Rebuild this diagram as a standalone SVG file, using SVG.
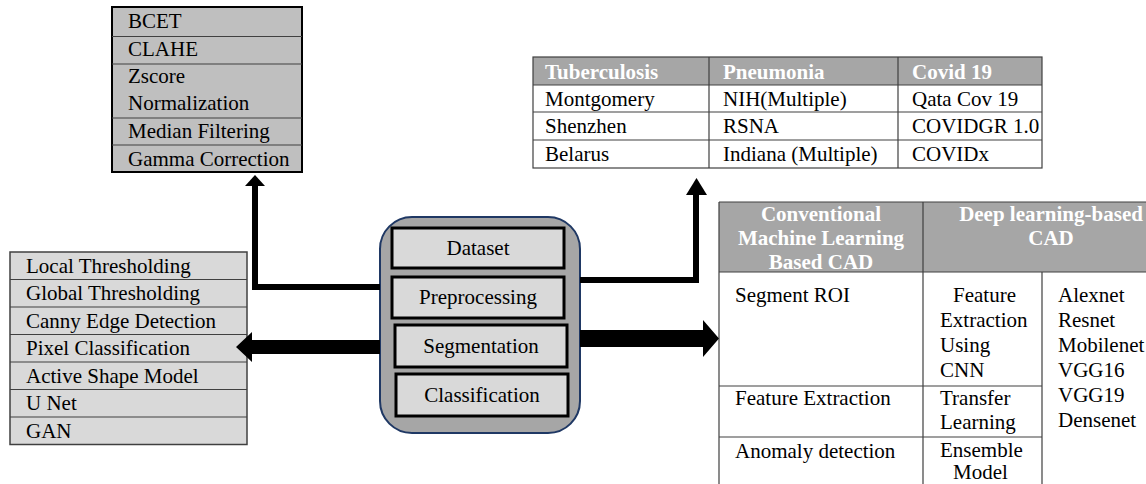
<svg xmlns="http://www.w3.org/2000/svg" width="1146" height="484" viewBox="0 0 1146 484" font-family="'Liberation Serif', 'DejaVu Serif', serif">
<style>
text{font-family:"Liberation Serif","Times New Roman",serif;font-size:21px;fill:#000}
.hd{font-weight:bold;fill:#fff}
.c{text-anchor:middle}
.grid{stroke:#404040;stroke-width:1.2;fill:none}
.inner{fill:#d9d9d9;stroke:#000;stroke-width:3}
</style>
<rect width="1146" height="484" fill="#fff"/>

<g id="preprocessing-list">
<rect x="112" y="7" width="190" height="165" fill="#bfbfbf" stroke="#000" stroke-width="2"/>
<path class="grid" d="M112 36.5H302M112 64H302M112 118H302M112 145H302"/>
<text x="128" y="28">BCET</text>
<text x="128" y="56">CLAHE</text>
<text x="128" y="83">Zscore</text>
<text x="128" y="110">Normalization</text>
<text x="128" y="138">Median Filtering</text>
<text x="128" y="166">Gamma Correction</text>
</g>

<g id="dataset-table">
<rect x="533" y="57" width="509" height="28" fill="#a6a6a6"/>
<rect class="grid" x="533" y="57" width="509" height="111" stroke-width="1.5"/>
<path class="grid" d="M533 85H1042M533 112H1042M533 140H1042M709 57V168M898 57V168"/>
<text class="hd" x="545" y="79">Tuberculosis</text>
<text class="hd" x="723" y="79">Pneumonia</text>
<text class="hd" x="912" y="79">Covid 19</text>
<text x="545" y="106">Montgomery</text>
<text x="723" y="106">NIH(Multiple)</text>
<text x="912" y="106">Qata Cov 19</text>
<text x="545" y="133">Shenzhen</text>
<text x="723" y="133">RSNA</text>
<text x="912" y="133">COVIDGR 1.0</text>
<text x="545" y="161">Belarus</text>
<text x="723" y="161">Indiana (Multiple)</text>
<text x="912" y="161">COVIDx</text>
</g>

<g id="segmentation-list">
<rect x="10" y="252" width="237" height="192.5" fill="#d9d9d9" stroke="#404040" stroke-width="1.5"/>
<path class="grid" d="M10 279.5H247M10 307H247M10 334.5H247M10 362H247M10 389.5H247M10 417H247"/>
<text x="26" y="272.5">Local Thresholding</text>
<text x="26" y="300">Global Thresholding</text>
<text x="26" y="327.5">Canny Edge Detection</text>
<text x="26" y="355">Pixel Classification</text>
<text x="26" y="382.5">Active Shape Model</text>
<text x="26" y="410">U Net</text>
<text x="26" y="437.5">GAN</text>
</g>

<g id="pipeline">
<rect x="380" y="217" width="200" height="216" rx="32" ry="32" fill="#a6a6a6" stroke="#1f3864" stroke-width="2"/>
<g id="step-dataset"><rect class="inner" x="392" y="228" width="172" height="40"/><text class="c" x="478" y="255">Dataset</text></g>
<g id="step-preprocessing"><rect class="inner" x="392" y="277" width="172" height="41"/><text class="c" x="478" y="304">Preprocessing</text></g>
<g id="step-segmentation"><rect class="inner" x="395" y="325" width="172" height="42"/><text class="c" x="481" y="353">Segmentation</text></g>
<g id="step-classification"><rect class="inner" x="396" y="374" width="172" height="42"/><text class="c" x="482" y="402">Classification</text></g>
</g>

<g id="classification-table">
<rect x="719" y="202" width="427" height="70" fill="#a6a6a6"/>
<path class="grid" stroke-width="1.5" d="M719 202H1146M719 202V484"/>
<path class="grid" d="M719 272H1146M923 202V484M1042 272V484M719 386H1042M719 437H1042"/>
<text class="hd c" x="821" y="221">Conventional</text>
<text class="hd c" x="821" y="245">Machine Learning</text>
<text class="hd c" x="821" y="269">Based CAD</text>
<text class="hd c" x="1051" y="221">Deep learning-based</text>
<text class="hd c" x="1051" y="245">CAD</text>
<text x="735" y="302">Segment ROI</text>
<text x="735" y="405">Feature Extraction</text>
<text x="735" y="458">Anomaly detection</text>
<text x="953" y="302">Feature</text>
<text x="940" y="327">Extraction</text>
<text x="940" y="352">Using</text>
<text x="940" y="377">CNN</text>
<text x="940" y="405">Transfer</text>
<text x="940" y="429">Learning</text>
<text x="940" y="457">Ensemble</text>
<text x="953" y="479">Model</text>
<text x="1058" y="302">Alexnet</text>
<text x="1058" y="327">Resnet</text>
<text x="1058" y="352">Mobilenet</text>
<text x="1058" y="377">VGG16</text>
<text x="1058" y="402">VGG19</text>
<text x="1058" y="427">Densenet</text>
</g>

<g id="connectors">
<path d="M380 287H255V184" fill="none" stroke="#000" stroke-width="6" stroke-linejoin="miter"/>
<polygon points="245,186 255,175 265,186" fill="#000"/>
<path d="M580 280H696V193" fill="none" stroke="#000" stroke-width="6" stroke-linejoin="miter"/>
<polygon points="686,195 696.5,178 707,195" fill="#000"/>
<polygon points="380,340 252,340 252,332 236,347 252,362 252,354 380,354" fill="#000"/>
<polygon points="580,330 703,330 703,320 719,338.5 703,357 703,347 580,347" fill="#000"/>
</g>
</svg>
